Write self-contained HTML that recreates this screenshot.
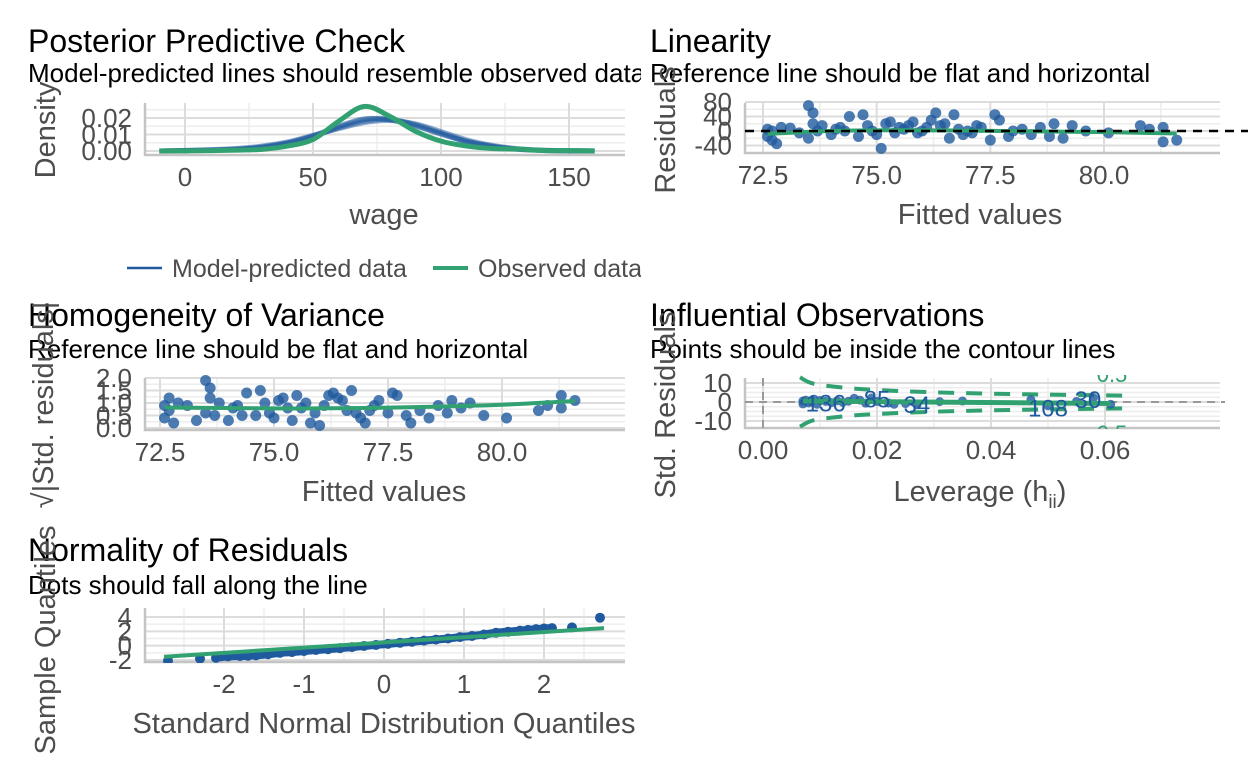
<!DOCTYPE html>
<html><head><meta charset="utf-8"><style>
body{margin:0;background:#fff;}
svg{display:block;font-family:"Liberation Sans",Arial,sans-serif;}
</style></head><body>
<svg id="chart" width="1248" height="768" viewBox="0 0 1248 768">
<defs>
<clipPath id="cl"><rect x="0" y="0" width="641" height="768"/></clipPath>
<clipPath id="cp1"><rect x="145" y="100" width="480" height="56"/></clipPath>
<clipPath id="cp2"><rect x="745" y="98" width="480" height="56"/></clipPath>
<clipPath id="cp3"><rect x="145" y="375" width="480" height="56"/></clipPath>
<clipPath id="cp4"><rect x="745" y="375" width="480" height="54"/></clipPath>
<clipPath id="cp5"><rect x="145" y="605" width="480" height="58"/></clipPath>
</defs>
<g id="bg"></g>
<g id="marks"></g>
<g fill="#000">
<text x="28" y="52" font-size="32">Posterior Predictive Check</text>
<text x="28" y="82" font-size="26" clip-path="url(#cl)">Model-predicted lines should resemble observed data</text>
<text x="650" y="52" font-size="32">Linearity</text>
<text x="650" y="82" font-size="26">Reference line should be flat and horizontal</text>
<text x="28" y="326" font-size="32">Homogeneity of Variance</text>
<text x="28" y="358" font-size="26">Reference line should be flat and horizontal</text>
<text x="650" y="326" font-size="32">Influential Observations</text>
<text x="650" y="358" font-size="26">Points should be inside the contour lines</text>
<text x="28" y="561" font-size="32">Normality of Residuals</text>
<text x="28" y="594" font-size="26">Dots should fall along the line</text>
</g>
<g fill="#4d4d4d" font-size="29" text-anchor="middle">
<text x="384" y="224">wage</text>
<text x="980" y="224">Fitted values</text>
<text x="384" y="501">Fitted values</text>
<text x="980" y="501">Leverage (h<tspan font-size="19" dy="7">ii</tspan><tspan dy="-7">)</tspan></text>
<text x="384" y="733">Standard Normal Distribution Quantiles</text>
<text transform="translate(55,130) rotate(-90)">Density</text>
<text transform="translate(675,130) rotate(-90)">Residuals</text>
<text transform="translate(53,405) rotate(-90)">√|Std. residuals|</text>
<text transform="translate(675,405) rotate(-90)">Std. Residuals</text>
<text transform="translate(55,640) rotate(-90)">Sample Quantiles</text>
</g>
<g clip-path="url(#cl)">
<line x1="127" y1="268" x2="162" y2="268" stroke="#1f5a9e" stroke-width="2.5"/>
<text x="172" y="277" font-size="25" fill="#4d4d4d">Model-predicted data</text>
<line x1="433" y1="268" x2="468" y2="268" stroke="#31a171" stroke-width="4"/>
<text x="478" y="277" font-size="25" fill="#4d4d4d">Observed data</text>
</g>
</svg>
<script>
// ---- data ----
const ppcX = [-10,0,10,20,30,40,50,60,70,80,90,100,110,120,130,140,150,160];
const ppcObserved = [0,0.0001,0.0002,0.0005,0.001,0.003,0.007,0.018,0.027,0.021,0.012,0.006,0.003,0.0015,0.0012,0.0003,0.0002,0.0001];
const ppcPred1 = [0,0.0003,0.0006,0.0012,0.0025,0.005,0.009,0.014,0.018,0.019,0.016,0.011,0.006,0.003,0.0012,0.0004,0.0001,0];
const ppcPred2 = [0,0.0002,0.0005,0.001,0.002,0.0045,0.0085,0.0145,0.019,0.0195,0.0155,0.0105,0.0055,0.0025,0.001,0.0003,0.0001,0];
const ppcPred3 = [0,0.0004,0.0008,0.0015,0.003,0.0055,0.0095,0.0135,0.0172,0.0185,0.0165,0.0118,0.0068,0.0034,0.0014,0.0005,0.0002,0];
const ppcPred4 = [0,0.0002,0.0004,0.0009,0.0022,0.0048,0.0092,0.015,0.0195,0.0188,0.015,0.0102,0.0058,0.0028,0.0011,0.0003,0.0001,0];
const ppcXTicks = [0,50,100,150];
const ppcYTicks = [0,0.01,0.02];
const ppcYLabels = ["0.00","0.01","0.02"];

const linFitted = [72.6,72.6,72.7,72.7,72.8,72.9,73.1,73.3,73.5,73.5,73.6,73.6,73.7,73.8,74.0,74.1,74.2,74.3,74.4,74.6,74.7,74.8,74.9,75.0,75.1,75.2,75.3,75.4,75.5,75.6,75.7,75.8,75.9,76.0,76.1,76.2,76.3,76.4,76.5,76.6,76.7,76.8,76.9,77.0,77.1,77.2,77.3,77.5,77.6,77.7,77.9,78.0,78.2,78.4,78.6,78.8,78.9,79.1,79.3,79.6,80.1,80.8,81.0,81.3,81.6,81.3];
const linResid = [5,-15,-25,0,-35,10,8,-5,-20,70,50,20,0,15,-10,5,10,0,40,-15,45,15,0,-10,-48,20,25,-5,10,5,15,25,-5,0,10,30,50,15,20,-20,45,5,-10,0,-5,15,10,-25,45,30,-15,0,5,-10,10,-15,20,-20,15,0,-5,15,5,-30,-25,10];
const linXTicks = [72.5,75,77.5,80];
const linXLabels = ["72.5","75.0","77.5","80.0"];
const linYTicks = [-40,0,40,80];
const linLoessX = [72.6,74,75.5,77,78.5,80,81.6];
const linLoessY = [-8,0,2,1,-1,-3,-7];

const homFitted = linFitted;
const homVal = [0.9,0.4,1.2,0.7,0.2,1.0,0.9,0.3,0.6,1.9,1.6,1.2,0.5,1.0,0.3,0.8,0.9,0.5,1.4,0.5,1.5,1.0,0.6,0.4,1.1,1.2,0.8,0.3,1.3,0.8,1.0,0.2,0.6,0.1,0.9,1.3,1.4,1.2,1.1,0.7,1.5,0.6,0.4,0.2,0.7,0.9,1.1,0.6,1.4,1.3,0.5,0.2,0.7,0.4,0.9,0.6,1.1,0.8,1.0,0.5,0.4,0.7,0.9,1.3,1.1,0.8];
const homXTicks = linXTicks;
const homYTicks = [0,0.5,1,1.5,2];
const homYLabels = ["0.0","0.5","1.0","1.5","2.0"];
const homLoessX = [72.6,74,75.5,77,78.5,80,81.6];
const homLoessY = [0.82,0.8,0.78,0.8,0.85,0.93,1.08];

const infLev = [0.007,0.007,0.0075,0.008,0.0085,0.009,0.0095,0.010,0.011,0.012,0.013,0.014,0.015,0.016,0.017,0.018,0.019,0.020,0.022,0.023,0.025,0.027,0.031,0.035,0.047,0.050,0.055,0.058,0.061];
const infRes = [0.5,-1,1,-0.5,0.2,1.5,-1.2,0.8,0.3,-0.3,0.6,-0.2,0.4,2,1,-0.6,2.1,0.3,-0.5,-1.2,-0.8,-1.5,0.2,0.5,1.2,-2,0.3,2.3,-1.2];
const infLabelLev = [0.011,0.020,0.027,0.050,0.057];
const infLabelRes = [-0.3,1.8,-1.0,-3.0,1.6];
const infLabelText = ["136","85","34","108","30"];
const infContourLev = [0.0065,0.008,0.01,0.015,0.02,0.03,0.04,0.05,0.06,0.065];
const infContourVal = [13,10.5,9,7.3,6.3,5.1,4.4,3.9,3.5,3.3];
const infXTicks = [0,0.02,0.04,0.06];
const infXLabels = ["0.00","0.02","0.04","0.06"];
const infYTicks = [-10,0,10];

const qqTheo = [-2.7,-2.3,-2.1,-1.95,-1.8,-1.7,-1.6,-1.45,-1.3,-1.15,-1.0,-0.85,-0.7,-0.55,-0.4,-0.25,-0.1,0.05,0.2,0.35,0.5,0.65,0.8,0.95,1.1,1.25,1.4,1.55,1.7,1.8,1.9,2.0,2.1,2.35,2.7];
const qqSample = [-2.1,-1.8,-1.7,-1.5,-1.45,-1.4,-1.35,-1.2,-1.0,-0.9,-0.75,-0.6,-0.5,-0.35,-0.2,-0.05,0.1,0.25,0.4,0.55,0.7,0.85,1.0,1.2,1.35,1.55,1.8,1.95,2.1,2.2,2.3,2.4,2.45,2.55,3.9];
const qqLineX = [-2.75,2.75];
const qqLineY = [-1.55,2.45];
const qqXTicks = [-2,-1,0,1,2];
const qqYTicks = [-2,0,2,4];

// ---- helpers ----
const NS = "http://www.w3.org/2000/svg";
function mk(parent, tag, attrs){const e=document.createElementNS(NS,tag);for(const k in attrs)e.setAttribute(k,attrs[k]);parent.appendChild(e);return e;}
function lin(d0,d1,r0,r1){return v=>r0+(v-d0)*(r1-r0)/(d1-d0);}
function smooth(xs,ys,sx,sy){
  const p=xs.map((x,i)=>[sx(x),sy(ys[i])]);
  let d="M"+p[0][0]+","+p[0][1];
  for(let i=0;i<p.length-1;i++){
    const p0=p[Math.max(0,i-1)],p1=p[i],p2=p[i+1],p3=p[Math.min(p.length-1,i+2)];
    const c1=[p1[0]+(p2[0]-p0[0])/6,p1[1]+(p2[1]-p0[1])/6];
    const c2=[p2[0]-(p3[0]-p1[0])/6,p2[1]-(p3[1]-p1[1])/6];
    d+="C"+c1[0]+","+c1[1]+" "+c2[0]+","+c2[1]+" "+p2[0]+","+p2[1];
  }
  return d;
}
const bg=document.getElementById('bg');
const marks=document.getElementById('marks');
const BLUE="#1f5a9e", GREEN="#31a171";

function panel(name,box,sx,sy,xt,xl,yt,yl,xminor,yminor){
  const g=mk(bg,'g',{});
  
  
  yminor.forEach(v=>{const y=sy(v);const l=mk(g,'line',{x1:box[0],x2:box[1],y1:y,y2:y,stroke:'#ededed','stroke-width':1.5});
    
    });
  xminor.forEach(v=>{const x=sx(v);const l=mk(g,'line',{x1:x,x2:x,y1:box[2],y2:box[3],stroke:'#ededed','stroke-width':1.5});
    
    });
  yt.forEach((v,i)=>{const y=sy(v);const l=mk(g,'line',{x1:box[0],x2:box[1],y1:y,y2:y,stroke:'#dcdcdc','stroke-width':2});
    
    
    const t=mk(g,'text',{x:box[0]-13,y:y+9,'text-anchor':'end','font-size':26,fill:'#4d4d4d'});t.textContent=yl[i];
    
    });
  xt.forEach((v,i)=>{const x=sx(v);const l=mk(g,'line',{x1:x,x2:x,y1:box[2],y2:box[3],stroke:'#dcdcdc','stroke-width':2});
    
    
    const t=mk(g,'text',{x:x,y:box[3]+31,'text-anchor':'middle','font-size':26,fill:'#4d4d4d'});t.textContent=xl[i];
    
    });
  const ax=mk(g,'path',{d:`M${box[0]},${box[2]}V${box[3]}H${box[1]}`,fill:'none',stroke:'#c4c4c4','stroke-width':2.5});
  
  
}

// ---- Panel 1: PPC ----
{
  const sx=lin(0,150,185,569), sy=lin(0,0.01,151,134.5);
  panel('ppc',[145,625,103,155],sx,sy,ppcXTicks,ppcXTicks.map(String),ppcYTicks,ppcYLabels,[25,75,125],[0.005,0.015,0.025]);
  const g=mk(marks,'g',{'clip-path':'url(#cp1)'});
  
  
  [ppcPred1,ppcPred2,ppcPred3,ppcPred4].forEach(s=>{
    const p=mk(g,'path',{d:smooth(ppcX,s,sx,sy),fill:'none',stroke:BLUE,'stroke-width':5,'stroke-opacity':0.5});
    
    
  });
  const o=mk(g,'path',{d:smooth(ppcX,ppcObserved,sx,sy),fill:'none',stroke:GREEN,'stroke-width':5});
  
  
}
// ---- Panel 2: Linearity ----
{
  const sx=lin(72.5,80,763,1104), sy=lin(0,40,131,116.5);
  panel('linearity',[745,1220,103,153],sx,sy,linXTicks,linXLabels,linYTicks,linYTicks.map(String),[73.75,76.25,78.75,81.25],[-20,20,60]);
  const g=mk(marks,'g',{'clip-path':'url(#cp2)'});
  
  
  linFitted.forEach((f,i)=>{const c=mk(g,'circle',{cx:sx(f),cy:sy(linResid[i]),r:5.5,fill:BLUE,'fill-opacity':0.8});
    
    });
  const ref=mk(marks,'line',{x1:745,x2:1248,y1:sy(0),y2:sy(0),stroke:'#000','stroke-width':2.5,'stroke-dasharray':'9,7'});
  
  
  const l=mk(g,'path',{d:smooth(linLoessX,linLoessY,sx,sy),fill:'none',stroke:GREEN,'stroke-width':4});
  
  
}
// ---- Panel 3: Homogeneity ----
{
  const sx=lin(72.5,80,160,502), sy=lin(0,2,428,378);
  panel('homogeneity',[145,625,378,430],sx,sy,homXTicks,linXLabels,homYTicks,homYLabels,[73.75,76.25,78.75,81.25],[0.25,0.75,1.25,1.75]);
  const g=mk(marks,'g',{'clip-path':'url(#cp3)'});
  
  
  homFitted.forEach((f,i)=>{const c=mk(g,'circle',{cx:sx(f),cy:sy(homVal[i]),r:5.5,fill:BLUE,'fill-opacity':0.8});
    
    });
  const l=mk(g,'path',{d:smooth(homLoessX,homLoessY,sx,sy),fill:'none',stroke:GREEN,'stroke-width':4});
  
  
}
// ---- Panel 4: Influential ----
{
  const sx=lin(0,0.06,763,1105), sy=lin(0,10,402,383);
  panel('influential',[745,1220,378,428],sx,sy,infXTicks,infXLabels,infYTicks,infYTicks.map(String),[0.01,0.03,0.05],[-7.5,-5,-2.5,2.5,5,7.5]);
  const g=mk(marks,'g',{'clip-path':'url(#cp4)'});
  
  
  const h=mk(g,'line',{x1:745,x2:1225,y1:sy(0),y2:sy(0),stroke:'#999','stroke-width':2,'stroke-dasharray':'8,6'});
  
  
  const v=mk(g,'line',{x1:sx(0),x2:sx(0),y1:378,y2:428,stroke:'#999','stroke-width':2,'stroke-dasharray':'8,6'});
  
  
  [1,-1].forEach(sg=>{
    const c=mk(g,'path',{d:smooth(infContourLev,infContourVal.map(x=>x*sg),sx,sy),fill:'none',stroke:GREEN,'stroke-width':4,'stroke-dasharray':'16,12'});
    
    
  });
  infLev.forEach((lv,i)=>{const c=mk(g,'circle',{cx:sx(lv),cy:sy(infRes[i]),r:4.5,fill:BLUE,'fill-opacity':0.8});
    
    });
  const l=mk(g,'line',{x1:sx(0.007),x2:sx(0.061),y1:sy(0.5),y2:sy(-0.8),stroke:GREEN,'stroke-width':5});
  
  
  infLabelText.forEach((t,i)=>{const e=mk(g,'text',{x:sx(infLabelLev[i]),y:sy(infLabelRes[i])+9,'font-size':24,fill:BLUE,'text-anchor':'middle'});e.textContent=t;
    
    });
  const c1=mk(g,'text',{x:1112,y:441,'font-size':22,fill:GREEN,'text-anchor':'middle'});c1.textContent='0.5';
  
  
  const c2=mk(g,'text',{x:1112,y:382,'font-size':22,fill:GREEN,'text-anchor':'middle'});c2.textContent='0.5';
  
  
}
// ---- Panel 5: Normality ----
{
  const sx=lin(0,1,384,464), sy=lin(-2,4,660,617);
  panel('normality',[145,625,608,662],sx,sy,qqXTicks,qqXTicks.map(String),qqYTicks,qqYTicks.map(String),[-2.5,-1.5,-0.5,0.5,1.5,2.5],[-1,1,3]);
  const g=mk(marks,'g',{'clip-path':'url(#cp5)'});
  
  
  qqTheo.forEach((t,i)=>{const c=mk(g,'circle',{cx:sx(t),cy:sy(qqSample[i]),r:5,fill:BLUE});
    
    });
  const p=mk(g,'path',{d:smooth(qqTheo.slice(2,-2),qqSample.slice(2,-2),sx,sy),fill:'none',stroke:BLUE,'stroke-width':8});
  
  
  const l=mk(g,'line',{x1:sx(qqLineX[0]),x2:sx(qqLineX[1]),y1:sy(qqLineY[0]),y2:sy(qqLineY[1]),stroke:GREEN,'stroke-width':4});
  
  
}
</script>
</body></html>
